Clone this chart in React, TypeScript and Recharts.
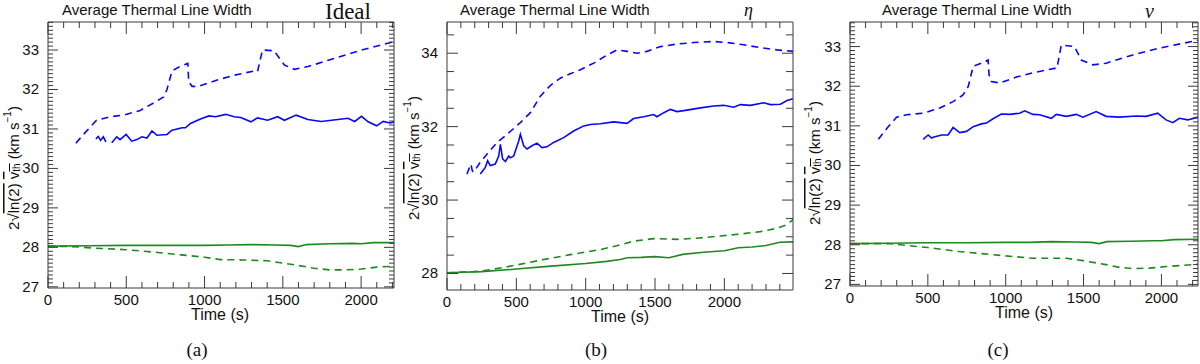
import React from 'react';
import { LineChart, Line, XAxis, YAxis } from 'recharts';

const BLUE = '#0808f5';
const GREEN = '#1e8a1e';
const AXIS = '#3a3a3a';
const SANS = '"Liberation Sans", Arial, Helvetica, sans-serif';
const SERIF = '"Liberation Serif", "DejaVu Serif", serif';

// ---- panel (a): Ideal ----
const idealDashT = [178, 240, 310, 396, 482, 589, 675, 739, 760, 792, 846, 893, 899, 920, 963, 1081, 1188, 1317, 1338, 1370, 1445, 1478, 1510, 1574, 1660, 1831, 2002, 2210];
const idealDashV = [30.64, 30.92, 31.22, 31.31, 31.35, 31.47, 31.66, 31.81, 32.0, 32.47, 32.59, 32.66, 32.19, 32.08, 32.08, 32.24, 32.36, 32.47, 32.45, 33.0, 32.98, 32.79, 32.62, 32.51, 32.58, 32.79, 33.0, 33.21];
const idealSolidT = [306, 321, 336, 353, 370, 385, 407, 439, 460, 499, 535, 567, 600, 632, 664, 696, 760, 792, 857, 878, 910, 974, 1028, 1071, 1135, 1188, 1231, 1296, 1338, 1403, 1467, 1510, 1585, 1660, 1745, 1852, 1916, 1959, 2002, 2045, 2099, 2141, 2184, 2210];
const idealSolidV = [30.75, 30.81, 30.71, 30.8, 30.67, null, 30.65, 30.8, 30.73, 30.86, 30.69, 30.73, 30.8, 30.77, 30.95, 30.84, 30.86, 30.97, 31.03, 31.03, 31.14, 31.25, 31.33, 31.31, 31.37, 31.31, 31.29, 31.18, 31.28, 31.22, 31.31, 31.22, 31.35, 31.24, 31.19, 31.24, 31.27, 31.19, 31.32, 31.18, 31.08, 31.19, 31.15, 31.18];
const idealGreenT = [0, 250, 500, 750, 1000, 1150, 1300, 1450, 1550, 1600, 1650, 1800, 1950, 2000, 2080, 2210];
const idealGreenV = [28.03, 28.04, 28.05, 28.05, 28.05, 28.06, 28.07, 28.06, 28.05, 28.02, 28.07, 28.09, 28.1, 28.09, 28.12, 28.12];
const idealGreenDashT = [0, 150, 300, 500, 700, 850, 1000, 1100, 1250, 1400, 1500, 1600, 1700, 1800, 1900, 2000, 2100, 2210];
const idealGreenDashV = [28.03, 28.02, 27.98, 27.94, 27.87, 27.81, 27.75, 27.69, 27.68, 27.66, 27.6, 27.54, 27.47, 27.43, 27.43, 27.45, 27.5, 27.52];

// ---- panel (b): eta ----
const etaDashT = [144, 158, 173, 182, 192, 240, 288, 361, 433, 529, 601, 673, 745, 817, 889, 962, 1058, 1154, 1226, 1298, 1370, 1442, 1538, 1659, 1779, 1923, 2019, 2139, 2260, 2380, 2495];
const etaDashV = [30.71, 30.85, 30.98, 30.8, 30.76, 31.03, 31.25, 31.57, 31.79, 32.11, 32.38, 32.83, 33.12, 33.32, 33.44, 33.55, 33.73, 33.95, 34.09, 34.05, 34.0, 34.05, 34.18, 34.25, 34.29, 34.32, 34.29, 34.23, 34.15, 34.09, 34.05];
const etaSolidT = [240, 276, 293, 312, 348, 373, 385, 401, 421, 445, 457, 481, 517, 529, 553, 577, 613, 649, 685, 721, 769, 841, 913, 986, 1034, 1106, 1202, 1298, 1346, 1418, 1490, 1514, 1563, 1611, 1659, 1731, 1827, 1923, 1995, 2067, 2115, 2188, 2284, 2332, 2404, 2452, 2495];
const etaSolidV = [30.71, 30.89, 31.07, 30.94, 30.98, 31.2, 31.52, 31.12, 31.05, 31.2, 31.15, 31.2, 31.61, 31.79, 31.48, 31.39, 31.48, 31.55, 31.43, 31.45, 31.57, 31.7, 31.88, 32.02, 32.06, 32.08, 32.13, 32.09, 32.22, 32.27, 32.33, 32.27, 32.38, 32.47, 32.41, 32.45, 32.51, 32.56, 32.58, 32.53, 32.6, 32.58, 32.65, 32.6, 32.61, 32.71, 32.76];
const etaGreenT = [0, 250, 500, 750, 1000, 1150, 1250, 1300, 1400, 1500, 1600, 1700, 1850, 2000, 2100, 2200, 2300, 2400, 2495];
const etaGreenV = [28.02, 28.05, 28.12, 28.2, 28.27, 28.33, 28.38, 28.43, 28.44, 28.46, 28.43, 28.52, 28.58, 28.62, 28.7, 28.72, 28.76, 28.85, 28.86];
const etaGreenDashT = [0, 240, 400, 500, 697, 900, 1106, 1250, 1346, 1490, 1659, 1800, 1971, 2100, 2260, 2380, 2450, 2495];
const etaGreenDashV = [28.02, 28.06, 28.16, 28.23, 28.38, 28.52, 28.65, 28.78, 28.88, 28.95, 28.93, 28.96, 29.02, 29.07, 29.14, 29.23, 29.33, 29.47];

// ---- panel (c): nu ----
const nuDashT = [182, 240, 299, 363, 470, 577, 662, 726, 759, 791, 844, 887, 893, 908, 962, 1068, 1175, 1314, 1329, 1357, 1442, 1485, 1560, 1645, 1816, 1987, 2235];
const nuDashV = [30.66, 30.95, 31.22, 31.28, 31.32, 31.45, 31.61, 31.78, 31.99, 32.5, 32.58, 32.66, 32.29, 32.12, 32.08, 32.23, 32.34, 32.45, 32.45, 33.04, 33.0, 32.66, 32.54, 32.58, 32.79, 32.96, 33.16];
const nuSolidT = [470, 502, 524, 534, 588, 630, 662, 705, 748, 791, 844, 876, 919, 972, 1026, 1090, 1122, 1175, 1218, 1293, 1325, 1389, 1453, 1496, 1581, 1645, 1731, 1838, 1902, 1976, 2030, 2073, 2115, 2169, 2235];
const nuSolidV = [30.66, 30.77, 30.69, 30.71, 30.77, 30.77, 30.96, 30.83, 30.86, 30.98, 31.05, 31.07, 31.18, 31.3, 31.29, 31.32, 31.38, 31.29, 31.28, 31.19, 31.29, 31.24, 31.29, 31.22, 31.36, 31.24, 31.22, 31.25, 31.24, 31.32, 31.15, 31.08, 31.19, 31.15, 31.22];
const nuGreenT = [0, 250, 500, 750, 1000, 1150, 1300, 1450, 1550, 1600, 1650, 1800, 1950, 2000, 2080, 2235];
const nuGreenV = [28.03, 28.04, 28.05, 28.05, 28.06, 28.06, 28.08, 28.07, 28.06, 28.03, 28.08, 28.09, 28.1, 28.1, 28.13, 28.14];
const nuGreenDashT = [0, 250, 500, 700, 1000, 1175, 1300, 1389, 1496, 1645, 1731, 1816, 1923, 2030, 2235];
const nuGreenDashV = [28.03, 28.03, 27.93, 27.83, 27.72, 27.66, 27.66, 27.66, 27.6, 27.5, 27.43, 27.4, 27.41, 27.45, 27.51];

const pts = (t: number[], v: (number | null)[]) => t.map((x, i) => ({ t: x, v: v[i] }));

// tick value lists
const xTicks = (max: number) => {
  const out: number[] = [];
  for (let i = 0; i * 100 <= max; i++) out.push(i * 100);
  return out;
};
const yTicks = (lo: number, hi: number, step: number) => {
  const out: number[] = [];
  for (let i = Math.ceil(lo / step - 1e-9); i * step <= hi + 1e-9; i++) out.push(Math.round(i * step * 100) / 100);
  return out;
};
const isMult = (v: number, m: number) => Math.abs(v / m - Math.round(v / m)) < 1e-6;

type PanelProps = {
  left: number;
  plot: { l: number; t: number; r: number; b: number };
  xMax: number;
  yDomain: [number, number];
  yStep: number;
  yLabelEvery: number;
  yMajorLen: number;
  yMinorLen: number;
  series: { data: { t: number; v: number | null }[]; color: string; dashed: boolean }[];
};

function Panel({ left, plot, xMax, yDomain, yStep, yLabelEvery, yMajorLen, yMinorLen, series }: PanelProps) {
  const W = 400;
  const H = 364;
  const A = 1; // axis thickness given to recharts
  const xt = xTicks(xMax);
  const yt = yTicks(yDomain[0], yDomain[1], yStep);
  const yLen = (v: number) => (isMult(v, yLabelEvery) ? yMajorLen : yMinorLen);
  const xLen = (v: number) => (isMult(v, 500) ? 12 : 6);

  return (
    <div style={{ position: 'absolute', left, top: 0 }}>
      <LineChart
        width={W}
        height={H}
        margin={{ top: plot.t - A, left: plot.l - A, right: W - plot.r - A, bottom: H - plot.b - A }}
      >
        <XAxis
          xAxisId="b"
          type="number"
          dataKey="t"
          domain={[0, xMax]}
          allowDataOverflow
          ticks={xt}
          interval={0}
          height={A}
          tickSize={0}
          tickMargin={0}
          stroke={AXIS}
          tick={(p: any) => (
            <g>
              <line x1={p.x} x2={p.x} y1={p.y} y2={p.y - xLen(p.payload.value)} stroke={AXIS} />
              {isMult(p.payload.value, 500) && (
                <text x={p.x} y={p.y + 17} textAnchor="middle" fontSize={15} fontFamily={SANS} fill="#111">
                  {p.payload.value}
                </text>
              )}
            </g>
          )}
        />
        <XAxis
          xAxisId="t"
          orientation="top"
          type="number"
          dataKey="t"
          domain={[0, xMax]}
          allowDataOverflow
          ticks={xt}
          interval={0}
          height={A}
          tickSize={0}
          tickMargin={0}
          stroke={AXIS}
          tick={(p: any) => <line x1={p.x} x2={p.x} y1={p.y} y2={p.y + xLen(p.payload.value)} stroke={AXIS} />}
        />
        <YAxis
          yAxisId="l"
          type="number"
          domain={yDomain}
          allowDataOverflow
          ticks={yt}
          interval={0}
          width={A}
          tickSize={0}
          tickMargin={0}
          stroke={AXIS}
          tick={(p: any) => (
            <g>
              <line x1={p.x} x2={p.x + yLen(p.payload.value)} y1={p.y} y2={p.y} stroke={AXIS} />
              {isMult(p.payload.value, yLabelEvery) && (
                <text x={p.x - 9} y={p.y + 5} textAnchor="end" fontSize={15} fontFamily={SANS} fill="#111">
                  {p.payload.value}
                </text>
              )}
            </g>
          )}
        />
        <YAxis
          yAxisId="r"
          orientation="right"
          type="number"
          domain={yDomain}
          allowDataOverflow
          ticks={yt}
          interval={0}
          width={A}
          tickSize={0}
          tickMargin={0}
          stroke={AXIS}
          tick={(p: any) => <line x1={p.x} x2={p.x - yLen(p.payload.value)} y1={p.y} y2={p.y} stroke={AXIS} />}
        />
        {series.map((s, i) => (
          <Line
            key={i}
            xAxisId="b"
            yAxisId="l"
            data={s.data}
            dataKey="v"
            type="linear"
            stroke={s.color}
            strokeWidth={1.6}
            strokeDasharray={s.dashed ? '7 5' : undefined}
            dot={false}
            activeDot={false}
            connectNulls={false}
            isAnimationActive={false}
          />
        ))}
      </LineChart>
    </div>
  );
}

function YLabel({ x, y }: { x: number; y: number }) {
  return (
    <text
      transform={`translate(${x},${y}) rotate(-90)`}
      textAnchor="middle"
      dominantBaseline="central"
      fontSize={15}
      fontFamily={SANS}
      fill="#111"
    >
      2√<tspan style={{ textDecoration: 'overline' }}>ln(2)</tspan>
      {'  '}
      <tspan style={{ textDecoration: 'overline' }}>v</tspan>
      <tspan fontSize={10} dy={3} style={{ textDecoration: 'overline' }}>th</tspan>
      <tspan dy={-3}>{'  (km s'}</tspan>
      <tspan fontSize={10} dy={-6}>−1</tspan>
      <tspan dy={6}>)</tspan>
    </text>
  );
}

export default function App() {
  const title = (x: number) => (
    <text x={x} y={15} fontSize={15} fontFamily={SANS} fill="#111">
      Average Thermal Line Width
    </text>
  );
  const timeLabel = (x: number, y: number) => (
    <text x={x} y={y} textAnchor="middle" fontSize={16} fontFamily={SANS} fill="#111">
      Time (s)
    </text>
  );
  const sub = (x: number, s: string) => (
    <text x={x} y={356} textAnchor="middle" fontSize={19} fontFamily={SERIF} fill="#111">
      {s}
    </text>
  );

  return (
    <div style={{ position: 'absolute', left: 0, top: 0, width: 1200, height: 364, background: '#fff' }}>
      <Panel
        left={0}
        plot={{ l: 48, t: 22, r: 394, b: 288 }}
        xMax={2210}
        yDomain={[26.97, 33.71]}
        yStep={0.1}
        yLabelEvery={1}
        yMajorLen={10}
        yMinorLen={5}
        series={[
          { data: pts(idealDashT, idealDashV), color: BLUE, dashed: true },
          { data: pts(idealSolidT, idealSolidV), color: BLUE, dashed: false },
          { data: pts(idealGreenT, idealGreenV), color: GREEN, dashed: false },
          { data: pts(idealGreenDashT, idealGreenDashV), color: GREEN, dashed: true },
        ]}
      />
      <Panel
        left={400}
        plot={{ l: 47, t: 22, r: 393, b: 290 }}
        xMax={2495}
        yDomain={[27.55, 34.85]}
        yStep={0.5}
        yLabelEvery={2}
        yMajorLen={11}
        yMinorLen={7}
        series={[
          { data: pts(etaDashT, etaDashV), color: BLUE, dashed: true },
          { data: pts(etaSolidT, etaSolidV), color: BLUE, dashed: false },
          { data: pts(etaGreenT, etaGreenV), color: GREEN, dashed: false },
          { data: pts(etaGreenDashT, etaGreenDashV), color: GREEN, dashed: true },
        ]}
      />
      <Panel
        left={800}
        plot={{ l: 50, t: 22, r: 398, b: 286 }}
        xMax={2235}
        yDomain={[26.96, 33.62]}
        yStep={0.1}
        yLabelEvery={1}
        yMajorLen={10}
        yMinorLen={5}
        series={[
          { data: pts(nuDashT, nuDashV), color: BLUE, dashed: true },
          { data: pts(nuSolidT, nuSolidV), color: BLUE, dashed: false },
          { data: pts(nuGreenT, nuGreenV), color: GREEN, dashed: false },
          { data: pts(nuGreenDashT, nuGreenDashV), color: GREEN, dashed: true },
        ]}
      />
      <svg width={1200} height={364} style={{ position: 'absolute', left: 0, top: 0, pointerEvents: 'none' }}>
        {title(62)}
        {title(460)}
        {title(882)}
        <text x={325} y={19} fontSize={23} fontFamily={SERIF} fill="#111">Ideal</text>
        <text x={744} y={16} fontSize={18} fontStyle="italic" fontFamily={SERIF} fill="#111">η</text>
        <text x={1145} y={18} fontSize={20} fontStyle="italic" fontFamily={SERIF} fill="#111">ν</text>
        <YLabel x={13} y={168} />
        <YLabel x={413} y={158} />
        <YLabel x={814} y={163} />
        {timeLabel(220, 320)}
        {timeLabel(620, 322)}
        {timeLabel(1024, 318)}
        {sub(197, '(a)')}
        {sub(596, '(b)')}
        {sub(998, '(c)')}
      </svg>
    </div>
  );
}
